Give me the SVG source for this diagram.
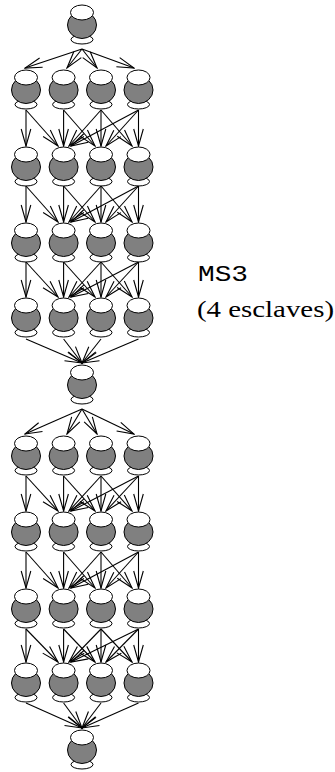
<svg xmlns="http://www.w3.org/2000/svg" xmlns:xlink="http://www.w3.org/1999/xlink" width="335" height="772" viewBox="0 0 335 772">
<style>
.w{fill:#fff;stroke:#000;stroke-width:1}
.g{fill:#808080;stroke:#000;stroke-width:1}
.c line{stroke:#000;stroke-width:1.1;marker-end:url(#ah)}
.mono{font-family:"Liberation Mono",monospace;font-size:22px}
.serif{font-family:"Liberation Serif",serif;font-size:24px}
</style>
<defs>
<marker id="ah" markerUnits="userSpaceOnUse" markerWidth="20" markerHeight="13" viewBox="-19 -6.5 20 13" refX="0" refY="0" orient="auto">
<path d="M-17,-4.8 L0,0 L-17,4.8" fill="none" stroke="#000" stroke-width="1.1"/>
</marker>
<g id="pot">
<ellipse class="w" cx="0" cy="34.5" rx="11" ry="4.5"/>
<ellipse class="g" cx="0" cy="20" rx="14.5" ry="13.5"/>
<ellipse class="w" cx="0" cy="7.5" rx="11.5" ry="7.5"/>
</g>
</defs>
<g id="n0"><use xlink:href="#pot" x="82" y="5"/></g>
<g id="n1a"><use xlink:href="#pot" x="26" y="70"/></g>
<g id="n1b"><use xlink:href="#pot" x="63.6" y="70"/></g>
<g id="n1c"><use xlink:href="#pot" x="101" y="70"/></g>
<g id="n1d"><use xlink:href="#pot" x="138.5" y="70"/></g>
<g id="n2a"><use xlink:href="#pot" x="26" y="147"/></g>
<g id="n2b"><use xlink:href="#pot" x="63.6" y="147"/></g>
<g id="n2c"><use xlink:href="#pot" x="101" y="147"/></g>
<g id="n2d"><use xlink:href="#pot" x="138.5" y="147"/></g>
<g id="n3a"><use xlink:href="#pot" x="26" y="223"/></g>
<g id="n3b"><use xlink:href="#pot" x="63.6" y="223"/></g>
<g id="n3c"><use xlink:href="#pot" x="101" y="223"/></g>
<g id="n3d"><use xlink:href="#pot" x="138.5" y="223"/></g>
<g id="n4a"><use xlink:href="#pot" x="26" y="298"/></g>
<g id="n4b"><use xlink:href="#pot" x="63.6" y="298"/></g>
<g id="n4c"><use xlink:href="#pot" x="101" y="298"/></g>
<g id="n4d"><use xlink:href="#pot" x="138.5" y="298"/></g>
<g id="m0"><use xlink:href="#pot" x="82" y="365"/></g>
<g id="n5a"><use xlink:href="#pot" x="26" y="436"/></g>
<g id="n5b"><use xlink:href="#pot" x="63.6" y="436"/></g>
<g id="n5c"><use xlink:href="#pot" x="101" y="436"/></g>
<g id="n5d"><use xlink:href="#pot" x="138.5" y="436"/></g>
<g id="n6a"><use xlink:href="#pot" x="26" y="512"/></g>
<g id="n6b"><use xlink:href="#pot" x="63.6" y="512"/></g>
<g id="n6c"><use xlink:href="#pot" x="101" y="512"/></g>
<g id="n6d"><use xlink:href="#pot" x="138.5" y="512"/></g>
<g id="n7a"><use xlink:href="#pot" x="26" y="589"/></g>
<g id="n7b"><use xlink:href="#pot" x="63.6" y="589"/></g>
<g id="n7c"><use xlink:href="#pot" x="101" y="589"/></g>
<g id="n7d"><use xlink:href="#pot" x="138.5" y="589"/></g>
<g id="n8a"><use xlink:href="#pot" x="26" y="663"/></g>
<g id="n8b"><use xlink:href="#pot" x="63.6" y="663"/></g>
<g id="n8c"><use xlink:href="#pot" x="101" y="663"/></g>
<g id="n8d"><use xlink:href="#pot" x="138.5" y="663"/></g>
<g id="b0"><use xlink:href="#pot" x="82" y="730"/></g>
<g id="connectors" class="c">
<line x1="82" y1="49" x2="25" y2="68"/>
<line x1="82" y1="49" x2="67" y2="68"/>
<line x1="82" y1="49" x2="97" y2="68"/>
<line x1="82" y1="49" x2="134" y2="68"/>
<line x1="26" y1="110" x2="26" y2="146"/>
<line x1="26" y1="110" x2="58" y2="146"/>
<line x1="63.6" y1="110" x2="63.6" y2="146"/>
<line x1="63.6" y1="110" x2="95" y2="146"/>
<line x1="101" y1="110" x2="101" y2="146"/>
<line x1="101" y1="110" x2="69" y2="146"/>
<line x1="101" y1="110" x2="132" y2="146"/>
<line x1="138.5" y1="110" x2="138.5" y2="146"/>
<line x1="138.5" y1="110" x2="106" y2="146"/>
<line x1="138.5" y1="110" x2="71" y2="146"/>
<line x1="26" y1="186" x2="26" y2="222"/>
<line x1="26" y1="186" x2="58" y2="222"/>
<line x1="63.6" y1="186" x2="63.6" y2="222"/>
<line x1="63.6" y1="186" x2="95" y2="222"/>
<line x1="101" y1="186" x2="101" y2="222"/>
<line x1="101" y1="186" x2="69" y2="222"/>
<line x1="101" y1="186" x2="132" y2="222"/>
<line x1="138.5" y1="186" x2="138.5" y2="222"/>
<line x1="138.5" y1="186" x2="106" y2="222"/>
<line x1="138.5" y1="186" x2="71" y2="222"/>
<line x1="26" y1="262" x2="26" y2="297"/>
<line x1="26" y1="262" x2="58" y2="297"/>
<line x1="63.6" y1="262" x2="63.6" y2="297"/>
<line x1="63.6" y1="262" x2="95" y2="297"/>
<line x1="101" y1="262" x2="101" y2="297"/>
<line x1="101" y1="262" x2="69" y2="297"/>
<line x1="101" y1="262" x2="132" y2="297"/>
<line x1="138.5" y1="262" x2="138.5" y2="297"/>
<line x1="138.5" y1="262" x2="106" y2="297"/>
<line x1="138.5" y1="262" x2="71" y2="297"/>
<line x1="26" y1="339" x2="82" y2="363"/>
<line x1="63.6" y1="339" x2="82" y2="363"/>
<line x1="101" y1="339" x2="82" y2="363"/>
<line x1="138.5" y1="339" x2="82" y2="363"/>
<line x1="82" y1="409" x2="25" y2="434"/>
<line x1="82" y1="409" x2="67" y2="434"/>
<line x1="82" y1="409" x2="97" y2="434"/>
<line x1="82" y1="409" x2="134" y2="434"/>
<line x1="26" y1="476" x2="26" y2="511"/>
<line x1="26" y1="476" x2="58" y2="511"/>
<line x1="63.6" y1="476" x2="63.6" y2="511"/>
<line x1="63.6" y1="476" x2="95" y2="511"/>
<line x1="101" y1="476" x2="101" y2="511"/>
<line x1="101" y1="476" x2="69" y2="511"/>
<line x1="101" y1="476" x2="132" y2="511"/>
<line x1="138.5" y1="476" x2="138.5" y2="511"/>
<line x1="138.5" y1="476" x2="106" y2="511"/>
<line x1="138.5" y1="476" x2="71" y2="511"/>
<line x1="26" y1="552" x2="26" y2="588"/>
<line x1="26" y1="552" x2="58" y2="588"/>
<line x1="63.6" y1="552" x2="63.6" y2="588"/>
<line x1="63.6" y1="552" x2="95" y2="588"/>
<line x1="101" y1="552" x2="101" y2="588"/>
<line x1="101" y1="552" x2="69" y2="588"/>
<line x1="101" y1="552" x2="132" y2="588"/>
<line x1="138.5" y1="552" x2="138.5" y2="588"/>
<line x1="138.5" y1="552" x2="106" y2="588"/>
<line x1="138.5" y1="552" x2="71" y2="588"/>
<line x1="26" y1="629" x2="26" y2="662"/>
<line x1="26" y1="629" x2="58" y2="662"/>
<line x1="63.6" y1="629" x2="63.6" y2="662"/>
<line x1="63.6" y1="629" x2="95" y2="662"/>
<line x1="101" y1="629" x2="101" y2="662"/>
<line x1="101" y1="629" x2="69" y2="662"/>
<line x1="101" y1="629" x2="132" y2="662"/>
<line x1="138.5" y1="629" x2="138.5" y2="662"/>
<line x1="138.5" y1="629" x2="106" y2="662"/>
<line x1="138.5" y1="629" x2="71" y2="662"/>
<line x1="26" y1="703" x2="82" y2="728"/>
<line x1="63.6" y1="703" x2="82" y2="728"/>
<line x1="101" y1="703" x2="82" y2="728"/>
<line x1="138.5" y1="703" x2="82" y2="728"/>
</g>
<text class="mono" x="198" y="281" textLength="50" lengthAdjust="spacingAndGlyphs">MS3</text>
<text class="serif" x="197" y="317" textLength="137" lengthAdjust="spacingAndGlyphs">(4 esclaves)</text>
</svg>
